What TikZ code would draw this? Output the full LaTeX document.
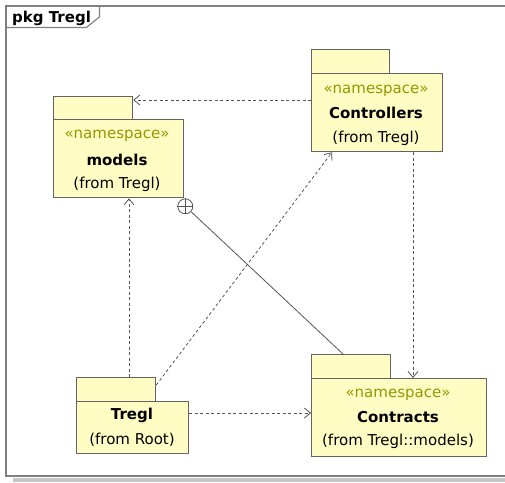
\documentclass[tikz,border=0pt]{standalone}
\usepackage{fontspec}
\setmainfont{DejaVu Sans}
\usetikzlibrary{arrows.meta,calc}
\definecolor{pkgfill}{RGB}{255,252,196}
\definecolor{pkgline}{RGB}{100,100,100}
\definecolor{stereo}{RGB}{150,150,0}
\definecolor{frameline}{RGB}{128,128,128}
\definecolor{conn}{RGB}{85,85,85}
\tikzset{
  pkgbox/.style={draw=pkgline, fill=pkgfill, line width=1.3pt, inner sep=0pt, anchor=north west},
  txt/.style={anchor=base, inner sep=0pt, font=\fontsize{15}{17}\selectfont},
  sttxt/.style={txt, text=stereo},
  nametxt/.style={txt, font=\fontsize{15}{17}\selectfont\bfseries},
  dep/.style={draw=conn, line width=0.8pt, dash pattern=on 3pt off 2.5pt, -{Straight Barb[length=6pt,width=10pt]}},
  nest/.style={draw=conn, line width=0.8pt}
}
\begin{document}
\begin{tikzpicture}[x=1pt,y=-1pt]
\useasboundingbox (0,0) rectangle (505,482);
% frame
\fill[gray!45] (13,478) rectangle (505,482);
\draw[frameline, line width=1.5pt] (520,6) -- (6,6) -- (6,476) -- (520,476);
\node[inner sep=0pt, anchor=north west, minimum width=93pt, minimum height=21pt] (lbl) at (6,6) {};
\draw[frameline, line width=1.2pt] (lbl.north east) -- ([yshift=-11pt]lbl.north east) -- ([xshift=-13pt]lbl.south east) -- (lbl.south west);
\node[nametxt, anchor=base west] (lbltxt) at (12,22) {pkg Tregl};

% models
\node[pkgbox, minimum width=79pt, minimum height=23pt] (modt) at (53,96) {};
\node[pkgbox, minimum width=130pt, minimum height=78pt] (modb) at (53,119) {};
\node[sttxt] (mods) at (117,138) {«namespace»};
\node[nametxt] (modn) at (117,165) {models};
\node[txt] (modf) at (117,188) {(from Tregl)};

% Controllers
\node[pkgbox, minimum width=78pt, minimum height=24pt] (ctlt) at (311,49) {};
\node[pkgbox, minimum width=131pt, minimum height=78pt] (ctlb) at (311,73) {};
\node[sttxt] (ctls) at (376,93) {«namespace»};
\node[nametxt] (ctln) at (376,118) {Controllers};
\node[txt] (ctlf) at (376,142) {(from Tregl)};

% Tregl
\node[pkgbox, minimum width=79pt, minimum height=24pt] (trgt) at (76,377) {};
\node[pkgbox, minimum width=112pt, minimum height=52pt] (trgb) at (76,401) {};
\node[nametxt] (trgn) at (132,419) {Tregl};
\node[txt] (trgf) at (132,444) {(from Root)};

% Contracts
\node[pkgbox, minimum width=79pt, minimum height=24pt] (cont) at (311,354) {};
\node[pkgbox, minimum width=175pt, minimum height=78pt] (conb) at (311,378) {};
\node[sttxt] (cons) at (398,397) {«namespace»};
\node[nametxt] (conn) at (398,422) {Contracts};
\node[txt] (conf) at (398,445) {(from Tregl::models)};

% connectors
\coordinate (c1) at ([yshift=-27pt]ctlb.north west);
\draw[dep] (c1) -- (modt.east |- c1);
\coordinate (c2) at ([xshift=53pt]trgt.north west);
\draw[dep] (c2) -- (modb.south west -| c2);
\coordinate (c3) at ([yshift=-8pt]trgt.north east);
\coordinate (c3e) at ([xshift=21pt]ctlb.south west);
\draw[dep] (c3) -- (c3e);
\coordinate (c4) at ([yshift=-12pt]trgb.north east);
\draw[dep] (c4) -- (conb.west |- c4);
\coordinate (c5) at ([xshift=102pt]ctlb.south west);
\draw[dep] (c5) -- (conb.north west -| c5);
% nesting
\coordinate (nc) at ([xshift=1pt,yshift=-8pt]modb.south east);
\node[draw=conn, line width=0.8pt, circle, minimum size=15pt, inner sep=0pt] (nest) at (nc) {};
\draw[conn, line width=0.8pt] (nest.north) -- (nest.south) (nest.west) -- (nest.east);
\coordinate (c6) at ([xshift=32pt]cont.north west);
\draw[nest] (nest) -- (c6);
\end{tikzpicture}
\end{document}
